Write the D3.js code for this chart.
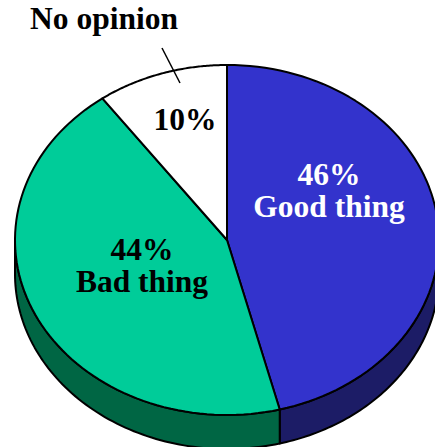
<!DOCTYPE html>
<html>
<head>
<meta charset="utf-8">
<script src="https://cdn.jsdelivr.net/npm/d3@7"></script>
<style>
  body { margin: 0; background: #fff; }
  svg text { font-family: "Liberation Serif", "Times New Roman", serif; font-weight: bold; }
</style>
</head>
<body>
<svg id="chart" width="435" height="447"></svg>
<script>
// data
const categories = ["Good thing", "Bad thing", "No opinion"];
const values = [46, 44, 10];
const topColors = ["#3333cc", "#00cc99", "#ffffff"];
const sideColors = ["#1c1c66", "#006644", "#cccccc"];
const textColors = ["#ffffff", "#000000", "#000000"];

const width = 435, height = 447;
const cx = 227, cy = 240, rx = 212, ry = 175, depth = 34;
const fontSize = "31.5px";

const svg = d3.select("#chart");

const pie = d3.pie().sort(null).value(d => d)
  .startAngle(0).endAngle(2 * Math.PI);
const arcs = pie(values);

// angle measured clockwise from top
const px = a => cx + rx * Math.sin(a);
const py = a => cy - ry * Math.cos(a);

function ellipseArc(a0, a1, dy) {
  const n = 80, pts = [];
  for (let i = 0; i <= n; i++) {
    const a = a0 + (a1 - a0) * i / n;
    pts.push([px(a), py(a) + dy]);
  }
  return pts;
}

const line = d3.line();

// sides (front half only)
const lo = Math.PI / 2, hi = 3 * Math.PI / 2;
arcs.forEach((d, i) => {
  const a0 = Math.max(d.startAngle, lo), a1 = Math.min(d.endAngle, hi);
  if (a1 <= a0) return;
  const pts = ellipseArc(a0, a1, 0).concat(ellipseArc(a1, a0, depth));
  svg.append("path")
    .attr("d", line(pts) + "Z")
    .attr("fill", sideColors[i])
    .attr("stroke", "#000")
    .attr("stroke-width", 2)
    .attr("stroke-linejoin", "round");
});

// top faces
arcs.forEach((d, i) => {
  const pts = [[cx, cy]].concat(ellipseArc(d.startAngle, d.endAngle, 0));
  svg.append("path")
    .attr("d", line(pts) + "Z")
    .attr("fill", topColors[i])
    .attr("stroke", "#000")
    .attr("stroke-width", 2)
    .attr("stroke-linejoin", "round");
});

// labels
const labelPos = [
  { x: 329, y: 185, name: true },
  { x: 142, y: 260, name: true },
  { x: 185, y: 130, name: false }
];
arcs.forEach((d, i) => {
  const p = labelPos[i];
  svg.append("text")
    .attr("x", p.x).attr("y", p.y)
    .attr("text-anchor", "middle")
    .style("font-size", fontSize)
    .attr("fill", textColors[i])
    .text(values[i] + "%");
  if (p.name) {
    svg.append("text")
      .attr("x", p.x).attr("y", p.y + 32)
      .attr("text-anchor", "middle")
      .style("font-size", fontSize)
      .attr("fill", textColors[i])
      .text(categories[i]);
  }
});

// No opinion outside label with leader
svg.append("text")
  .attr("x", 104).attr("y", 29)
  .attr("text-anchor", "middle")
  .style("font-size", fontSize)
  .text(categories[2]);

svg.append("line")
  .attr("x1", 162).attr("y1", 48)
  .attr("x2", 180).attr("y2", 83)
  .attr("stroke", "#000")
  .attr("stroke-width", 1.5);
</script>
</body>
</html>
